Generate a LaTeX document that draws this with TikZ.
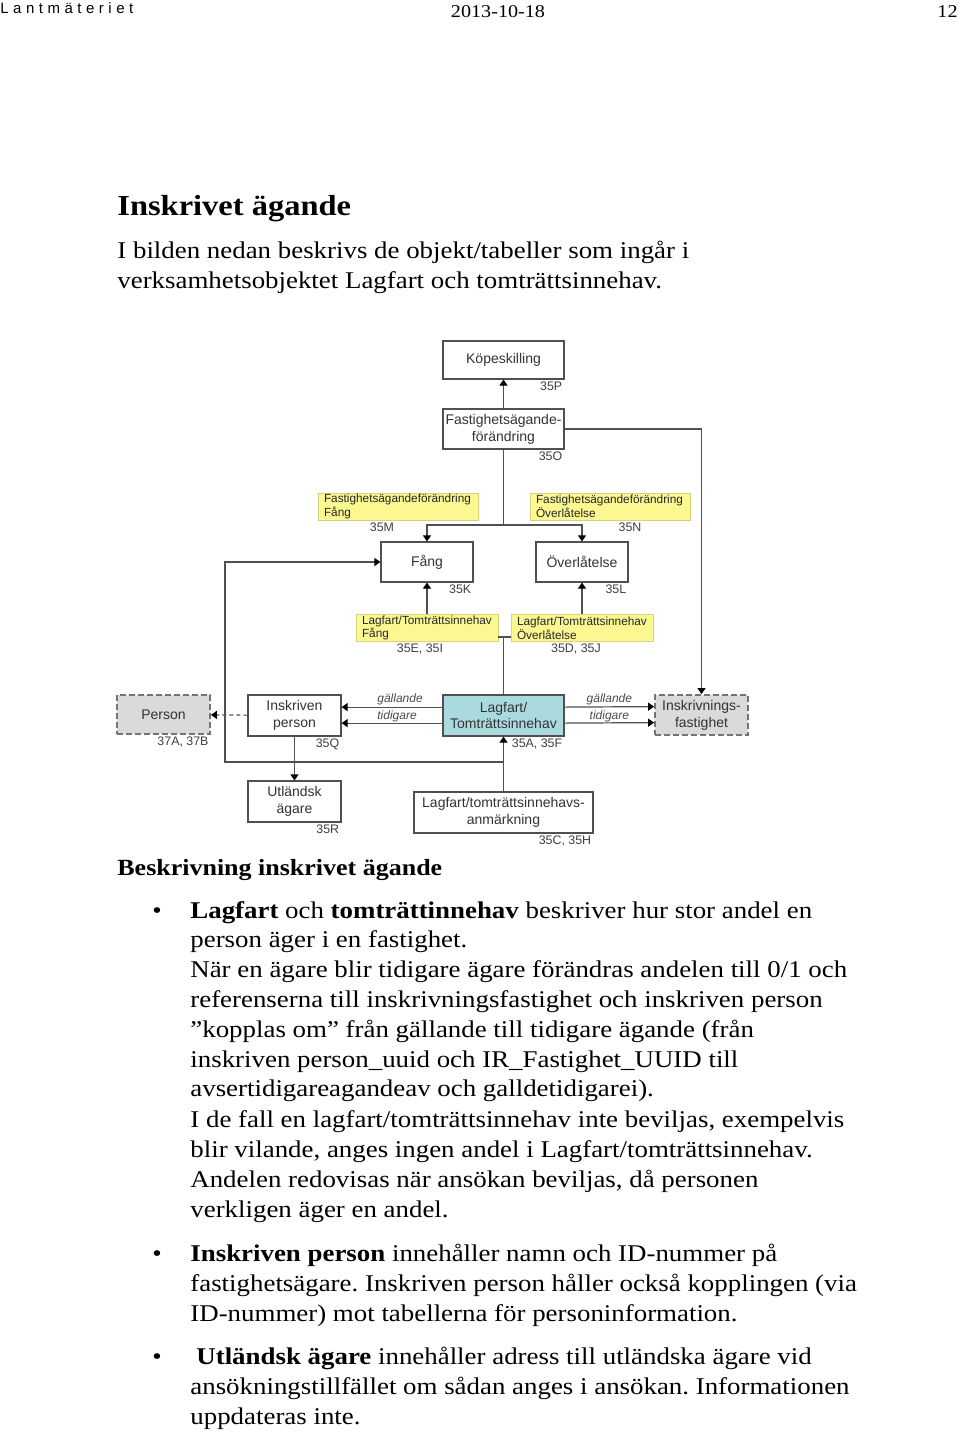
\documentclass[tikz,border=0pt]{standalone}
\usepackage{fontspec}
\usetikzlibrary{arrows.meta}
\setmainfont{Liberation Serif}[FakeStretch=1.12]
\newfontfamily\diafont{Liberation Sans}
\newfontfamily\logofont{Liberation Sans}[LetterSpace=30]
\definecolor{noteyellow}{RGB}{252,248,145}
\definecolor{lagblue}{RGB}{170,218,222}
\definecolor{extgray}{RGB}{218,218,218}
\definecolor{linegray}{RGB}{80,80,80}
\frenchspacing
\tikzset{
  umlbox/.style={draw=linegray, line width=0.6pt, fill=white, align=center, inner sep=1pt,
    font=\diafont\fontsize{7}{8.4}\selectfont, text=black!80},
  extbox/.style={umlbox, fill=extgray, draw=black!55, line width=0.9pt, dash pattern=on 3pt off 1.5pt},
  notebox/.style={fill=noteyellow, draw=noteyellow!85!black, line width=0.3pt, align=left,
    inner xsep=3pt, inner ysep=0.5pt, minimum height=13.5pt,
    font=\diafont\fontsize{5.9}{6.9}\selectfont, text=black!85},
  tabref/.style={inner sep=1pt, font=\diafont\fontsize{6.2}{7}\selectfont, text=black!75},
  rolelbl/.style={inner sep=0.8pt, font=\diafont\itshape\fontsize{6}{6}\selectfont, text=black!70},
  conn/.style={draw=linegray, line width=0.6pt},
  bodyline/.style={anchor=base west, inner sep=0pt, font=\fontsize{12}{14}\selectfont},
  bullet/.style={anchor=base, inner sep=0pt, font=\fontsize{12}{14}\selectfont},
}
\begin{document}
\begin{tikzpicture}[x=0.5pt,y=-0.5pt,>={Triangle[length=3pt,width=4pt,color=black]}]
  \fill[white] (0,0) rectangle (960,1432);
  \useasboundingbox (0,0) rectangle (960,1432);

  % header
  \node[anchor=base west, inner sep=0pt, font=\logofont\fontsize{7.5}{8}\selectfont] (logo) at (0,13) {Lantmäteriet};
  \node[anchor=base, inner sep=0pt, font=\fontsize{9}{10}\selectfont] (date) at (498,17) {2013-10-18};
  \node[anchor=base east, inner sep=0pt, font=\fontsize{9}{10}\selectfont] (pageno) at (958,17) {12};

  \node[anchor=base west, inner sep=0pt, font=\bfseries\fontsize{14.5}{16}\selectfont] (title) at (117,215) {Inskrivet ägande};
  \node[bodyline] (intro1) at (117,258) {I bilden nedan beskrivs de objekt/tabeller som ingår i};
  \node[bodyline] (intro2) at (117,288) {verksamhetsobjektet Lagfart och tomträttsinnehav.};

  % diagram
  \node[umlbox, minimum width=60.5pt, minimum height=19pt] (kop) at (503.5,360) {Köpeskilling};
  \node[umlbox, minimum width=60.5pt, minimum height=20pt] (fao) at (503.5,429) {Fastighetsägande-\\förändring};
  \node[notebox, text width=74pt] (fmnote) at (398,506.5) {Fastighetsägandeförändring\\Fång};
  \node[notebox, text width=74pt] (fnnote) at (610,506.5) {Fastighetsägandeförändring\\Överlåtelse};
  \node[umlbox, minimum width=46pt, minimum height=20pt] (fang) at (427,562) {Fång};
  \node[umlbox, minimum width=46pt, minimum height=20pt] (overl) at (582,562) {Överlåtelse};
  \node[notebox, text width=65pt] (lfnote) at (427,628) {Lagfart/Tomträttsinnehav\\Fång};
  \node[notebox, text width=65pt] (lonote) at (582,628) {Lagfart/Tomträttsinnehav\\Överlåtelse};
  \node[extbox, minimum width=46.5pt, minimum height=19.5pt] (person) at (163.5,714.5) {Person};
  \node[umlbox, minimum width=46.5pt, minimum height=20.5pt] (inskp) at (294.5,715.5) {Inskriven\\person};
  \node[umlbox, fill=lagblue, minimum width=60.5pt, minimum height=20.5pt] (lagfart) at (503.5,715.5) {Lagfart/\\Tomträttsinnehav};
  \node[extbox, minimum width=46.5pt, minimum height=20pt] (ifast) at (701.5,715) {Inskrivnings-\\fastighet};
  \node[umlbox, minimum width=46.5pt, minimum height=20.5pt] (utl) at (294.5,801.5) {Utländsk\\ägare};
  \node[umlbox, minimum width=89.5pt, minimum height=20.5pt] (anm) at (503.5,812.5) {Lagfart/tomträttsinnehavs-\\anmärkning};

  % table numbers
  \node[tabref, anchor=north east] at (kop.south east) {35P};
  \node[tabref, anchor=north east] at (fao.south east) {35O};
  \node[tabref, anchor=north] at ([xshift=-8pt]fmnote.south) {35M};
  \node[tabref, anchor=north] at ([xshift=10pt]fnnote.south) {35N};
  \node[tabref, anchor=north east] at (fang.south east) {35K};
  \node[tabref, anchor=north east] at (overl.south east) {35L};
  \node[tabref, anchor=north] at ([xshift=-3.5pt]lfnote.south) {35E, 35I};
  \node[tabref, anchor=north] at ([xshift=-3pt]lonote.south) {35D, 35J};
  \node[tabref, anchor=north east] at (person.south east) {37A, 37B};
  \node[tabref, anchor=north east] at (inskp.south east) {35Q};
  \node[tabref, anchor=north east] at (lagfart.south east) {35A, 35F};
  \node[tabref, anchor=north east] at (utl.south east) {35R};
  \node[tabref, anchor=north east] at (anm.south east) {35C, 35H};

  % connectors
  \coordinate (fork) at (503.5,525);
  \coordinate (assoc) at (503.5,637);
  \coordinate (loopturn) at (225,562);
  \coordinate (loopfoot) at (503.5,762);
  \draw[conn,->] (fao) -- (kop);
  \draw[conn,->] (fao.east) -| (ifast.north);
  \draw[conn] (fao) -- (fork);
  \draw[conn,->] (fork) -| (fang.north);
  \draw[conn,->] (fork) -| (overl.north);
  \draw[conn,->] (lfnote) -- (fang);
  \draw[conn,->] (lonote) -- (overl);
  \draw[conn] (lfnote.east |- assoc) -- (lonote.west |- assoc);
  \draw[conn] (lagfart) -- (assoc);
  \draw[conn,->] (anm) -- (lagfart);
  \draw[conn,->] (loopfoot) -| (loopturn) -- (fang.west);
  \draw[conn,->] (inskp) -- (utl);
  \draw[conn,->,dash pattern=on 2pt off 1.5pt] (inskp) -- (person);
  \draw[conn,->] ([yshift=4.2pt]lagfart.west) -- ([yshift=4.2pt]inskp.east)
    node[rolelbl, pos=0.42, above] {gällande};
  \draw[conn,->] ([yshift=-3.8pt]lagfart.west) -- ([yshift=-3.8pt]inskp.east)
    node[rolelbl, pos=0.45, above, inner sep=0.2pt] {tidigare};
  \draw[conn,->] ([yshift=4.2pt]lagfart.east) -- ([yshift=4.2pt]ifast.west)
    node[rolelbl, midway, above] {gällande};
  \draw[conn,->] ([yshift=-3.8pt]lagfart.east) -- ([yshift=-3.8pt]ifast.west)
    node[rolelbl, midway, above, inner sep=0.2pt] {tidigare};

  % description
  \node[anchor=base west, inner sep=0pt, font=\bfseries\fontsize{11.6}{14}\selectfont] (subhead) at (117,875) {Beskrivning inskrivet ägande};
  \node[bullet] at (157,918) {\textbullet};
  \node[bodyline] at (190,918) {{\bfseries Lagfart} och {\bfseries tomträttinnehav} beskriver hur stor andel en};
  \node[bodyline] at (190,947.8) {person äger i en fastighet.};
  \node[bodyline] at (190,977.6) {När en ägare blir tidigare ägare förändras andelen till 0/1 och};
  \node[bodyline] at (190,1007.4) {referenserna till inskrivningsfastighet och inskriven person};
  \node[bodyline] at (190,1037.2) {”kopplas om” från gällande till tidigare ägande (från};
  \node[bodyline] at (190,1067) {inskriven person\_uuid och IR\_Fastighet\_UUID till};
  \node[bodyline] at (190,1096.8) {avsertidigareagandeav och galldetidigarei).};
  \node[bodyline] at (190,1127.8) {I de fall en lagfart/tomträttsinnehav inte beviljas, exempelvis};
  \node[bodyline] at (190,1157.8) {blir vilande, anges ingen andel i Lagfart/tomträttsinnehav.};
  \node[bodyline] at (190,1187.8) {Andelen redovisas när ansökan beviljas, då personen};
  \node[bodyline] at (190,1217.8) {verkligen äger en andel.};
  \node[bullet] at (157,1261.5) {\textbullet};
  \node[bodyline] at (190,1261.5) {{\bfseries Inskriven person} innehåller namn och ID-nummer på};
  \node[bodyline] at (190,1291.3) {fastighetsägare. Inskriven person håller också kopplingen (via};
  \node[bodyline] at (190,1321) {ID-nummer) mot tabellerna för personinformation.};
  \node[bullet] at (157,1364.5) {\textbullet};
  \node[bodyline] at (196,1364.5) {{\bfseries Utländsk ägare} innehåller adress till utländska ägare vid};
  \node[bodyline] at (190,1394.5) {ansökningstillfället om sådan anges i ansökan. Informationen};
  \node[bodyline] at (190,1424) {uppdateras inte.};
\end{tikzpicture}
\end{document}
